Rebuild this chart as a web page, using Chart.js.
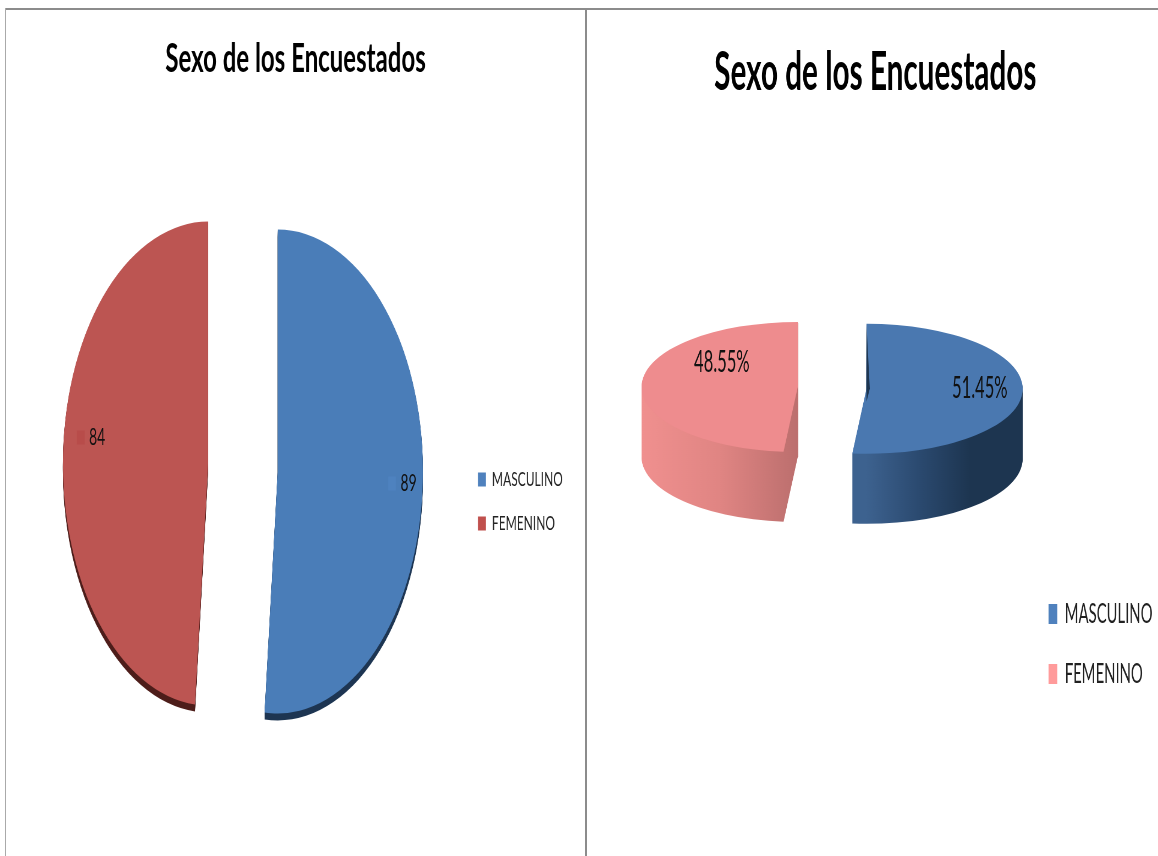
<!DOCTYPE html>
<html>
<head>
<meta charset="utf-8">
<script src="https://cdn.jsdelivr.net/npm/chart.js@4"></script>
<style>
  html, body { margin: 0; padding: 0; background: #fff; overflow: hidden; }
  body { width: 1158px; height: 856px; position: relative; }
  canvas { position: absolute; top: 0; transform-origin: 0 0; }
  .rule { position: absolute; background: #8c8c8c; }
</style>
</head>
<body>
<div class="rule" style="left:5px;top:8px;width:1153px;height:2px"></div>
<div class="rule" style="left:5px;top:8px;width:1px;height:848px;background:#aaa"></div>
<div class="rule" style="left:585px;top:8px;width:2px;height:848px"></div>
<canvas id="countChart" width="975" height="856" style="left:0;transform:scaleX(0.6)"></canvas>
<canvas id="percentChart" width="1040" height="856" style="left:586px;transform:scaleX(0.55)"></canvas>
<script>
const chartTitle = "Sexo de los Encuestados";
const categories = ["MASCULINO", "FEMENINO"];
const countValues = [89, 84];
const percentValues = [51.45, 48.55];
const FONT = "Lato, Carlito, sans-serif";

// squashes the pie and sweeps it down so it looks like the old 3d excel pie
const pie3d = {
  id: "pie3d",
  afterDatasetsUpdate(chart, args, opts) {
    // pull the slices apart, the offset option also shrinks their angles
    chart.getDatasetMeta(0).data.forEach(function(arc, i) {
      arc.x += opts.explode[i][0];
      arc.y += opts.explode[i][1];
    });
  },
  beforeDatasetsDraw(chart, args, opts) {
    const ctx = chart.ctx;
    const arcs = chart.getDatasetMeta(0).data;
    const cy = (chart.chartArea.top + chart.chartArea.bottom) / 2;
    const place = function() {
      ctx.translate(0, cy + opts.dy);
      ctx.scale(1, opts.sy);
      ctx.translate(0, -cy);
    };
    arcs.forEach(function(arc, i) {
      const a = arc.getProps(["x", "y", "startAngle", "endAngle", "outerRadius"]);
      const r = a.outerRadius;
      const mid = (a.startAngle + a.endAngle) / 2;
      const left = Math.cos(mid) < 0;
      for (let d = opts.depth; d > 0; d--) {
        ctx.save();
        ctx.translate(0, d);
        place();
        const g = ctx.createLinearGradient(left ? a.x - r : a.x, 0, left ? a.x : a.x + r, 0);
        opts.walls[i].forEach(function(c, k, all) { g.addColorStop(k / (all.length - 1), c); });
        ctx.fillStyle = g;
        ctx.beginPath();
        ctx.moveTo(a.x, a.y);
        ctx.arc(a.x, a.y, r, a.startAngle, a.endAngle);
        ctx.closePath();
        ctx.fill();
        if (opts.cutFace && opts.cutFace[i]) {
          // the cut face of a slice, only where it can be seen
          ctx.strokeStyle = opts.cutFace[i];
          ctx.lineWidth = 2;
          ctx.beginPath();
          ctx.moveTo(a.x, a.y);
          ctx.lineTo(a.x + Math.cos(a.endAngle) * r, a.y + Math.sin(a.endAngle) * r);
          ctx.stroke();
        }
        ctx.restore();
      }
    });
    ctx.save();
    place();
  },
  afterDatasetsDraw(chart, args, opts) {
    const ctx = chart.ctx;
    const arcs = chart.getDatasetMeta(0).data;
    const cy = (chart.chartArea.top + chart.chartArea.bottom) / 2;
    if (opts.sliver) {
      // dark sliver of inner wall showing beside the first slice
      const a = arcs[0].getProps(["x", "y", "outerRadius"]);
      ctx.fillStyle = opts.sliver;
      ctx.beginPath();
      ctx.moveTo(a.x, a.y - a.outerRadius);
      ctx.lineTo(a.x + 6, a.y);
      ctx.lineTo(a.x, a.y + a.outerRadius * 0.2);
      ctx.closePath();
      ctx.fill();
    }
    ctx.restore();
    ctx.save();
    ctx.font = opts.labelFont;
    ctx.fillStyle = "#111";
    ctx.textAlign = "center";
    ctx.textBaseline = "middle";
    arcs.forEach(function(arc, i) {
      const a = arc.getProps(["x", "y"]);
      const lx = a.x + opts.labelShift[i][0];
      const ly = cy + opts.dy + (a.y - cy) * opts.sy + opts.labelShift[i][1];
      if (opts.swatches) {
        ctx.fillStyle = opts.swatches[i];
        ctx.fillRect(lx - 34, ly - 7, 13, 14);
        ctx.fillStyle = "#111";
      }
      ctx.fillText(opts.format(chart.data.datasets[0].data[i]), lx, ly);
    });
    ctx.restore();
  }
};

function legendColors(colors) {
  return function(chart) {
    const items = Chart.overrides.pie.plugins.legend.labels.generateLabels(chart);
    items.forEach(function(it, i) { it.fillStyle = colors[i]; it.strokeStyle = colors[i]; });
    return items;
  };
}

new Chart(document.getElementById("countChart"), {
  type: "pie",
  plugins: [pie3d],
  data: {
    labels: categories,
    datasets: [{
      data: countValues,
      backgroundColor: ["#4A7DB8", "#BC5552"],
      borderWidth: 0,
      radius: 242,
      clip: false
    }]
  },
  options: {
    responsive: false,
    animation: false,
    events: [],
    layout: { padding: { left: 37, right: 27 } },
    plugins: {
      title: {
        display: true,
        text: chartTitle,
        color: "#000",
        font: { family: FONT, size: 40, weight: "bold" },
        padding: { top: 35, bottom: 64 }
      },
      legend: {
        position: "right",
        fullSize: false,
        labels: {
          generateLabels: legendColors(["#4F81BD", "#C0504D"]),
          color: "#222",
          font: { family: FONT, size: 20 },
          boxWidth: 13,
          boxHeight: 14,
          padding: 24
        }
      },
      tooltip: { enabled: false },
      pie3d: {
        sy: 1,
        dy: 0,
        depth: 7,
        explode: [[58, -30], [-58, -38]],
        walls: [["#1D3552", "#1D3552"], ["#4D1D1A", "#4D1D1A"]],
        labelFont: "23px " + FONT,
        labelShift: [[218, 12], [-185, -26]],
        swatches: ["#4E82BF", "#B84C4A"],
        format: function(v) { return String(v); }
      }
    }
  }
});

new Chart(document.getElementById("percentChart"), {
  type: "pie",
  plugins: [pie3d],
  data: {
    labels: categories,
    datasets: [{
      data: percentValues,
      backgroundColor: ["#4A78B0", "#EE8C8E"],
      borderWidth: 0,
      radius: 284,
      clip: false
    }]
  },
  options: {
    responsive: false,
    animation: false,
    events: [],
    layout: { padding: { left: 12, right: 0 } },
    plugins: {
      title: {
        display: true,
        text: chartTitle,
        color: "#000",
        font: { family: FONT, size: 54, weight: "bold" },
        padding: { top: 40, bottom: 327 }
      },
      legend: {
        position: "right",
        fullSize: false,
        labels: {
          generateLabels: legendColors(["#4F81BD", "#FF9B9B"]),
          color: "#222",
          font: { family: FONT, size: 27 },
          boxWidth: 16,
          boxHeight: 20,
          padding: 33
        }
      },
      tooltip: { enabled: false },
      pie3d: {
        sy: 0.229,
        dy: -256,
        depth: 70,
        explode: [[100, 4], [-25, -4]],
        walls: [["#3D628F", "#2B4A70", "#1D3550", "#1D3550"], ["#F0908F", "#E08583", "#BC6F6E"]],
        cutFace: [null, "#C77B7A"],
        sliver: "#1D3550",
        labelFont: "30px " + FONT,
        labelShift: [[206, 0], [-138, -25]],
        format: function(v) { return v.toFixed(2) + "%"; }
      }
    }
  }
});
</script>
</body>
</html>
